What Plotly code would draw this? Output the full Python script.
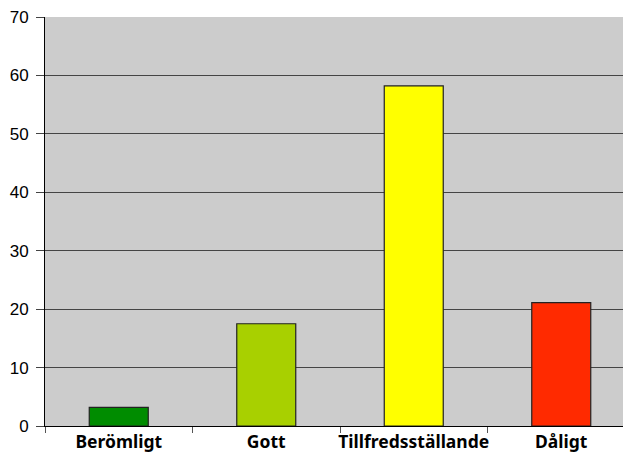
import plotly.graph_objects as go

categories = ["Berömligt", "Gott", "Tillfredsställande", "Dåligt"]
values = [3.2, 17.5, 58.2, 21.1]
colors = ["#008C00", "#A8D000", "#FFFF00", "#FF2A00"]
y_ticks = [0, 10, 20, 30, 40, 50, 60, 70]

fig = go.Figure(go.Bar(
    x=categories, y=values,
    marker=dict(color=colors, line=dict(color="#222222", width=1.2)),
))

fig.update_layout(
    width=635, height=455,
    margin=dict(l=45, r=0, t=17, b=29),
    paper_bgcolor="white", plot_bgcolor="#CCCCCC",
    bargap=0.6, showlegend=False,
    xaxis=dict(
        tickson="boundaries", ticks="outside", ticklen=6, tickcolor="#555555",
        showline=True, linecolor="black", linewidth=1, tickangle=0, automargin=False,
        tickfont=dict(family="Noto Sans", size=17.5, color="black", weight="bold"),
        showgrid=False,
    ),
    yaxis=dict(
        range=[0, 70], tickvals=y_ticks, ticks="outside", ticklen=8, tickcolor="#444444",
        showline=True, linecolor="black", linewidth=1, automargin=False,
        gridcolor="#444444", gridwidth=1, zeroline=False, ticklabelstandoff=4,
        tickfont=dict(family="Liberation Sans", size=17, color="black"),
    ),
)

fig.write_html(
    "out.html",
    config={"displayModeBar": False},
    post_script="document.body.style.margin='0';document.body.style.overflow='hidden';document.documentElement.style.overflow='hidden';",
)
